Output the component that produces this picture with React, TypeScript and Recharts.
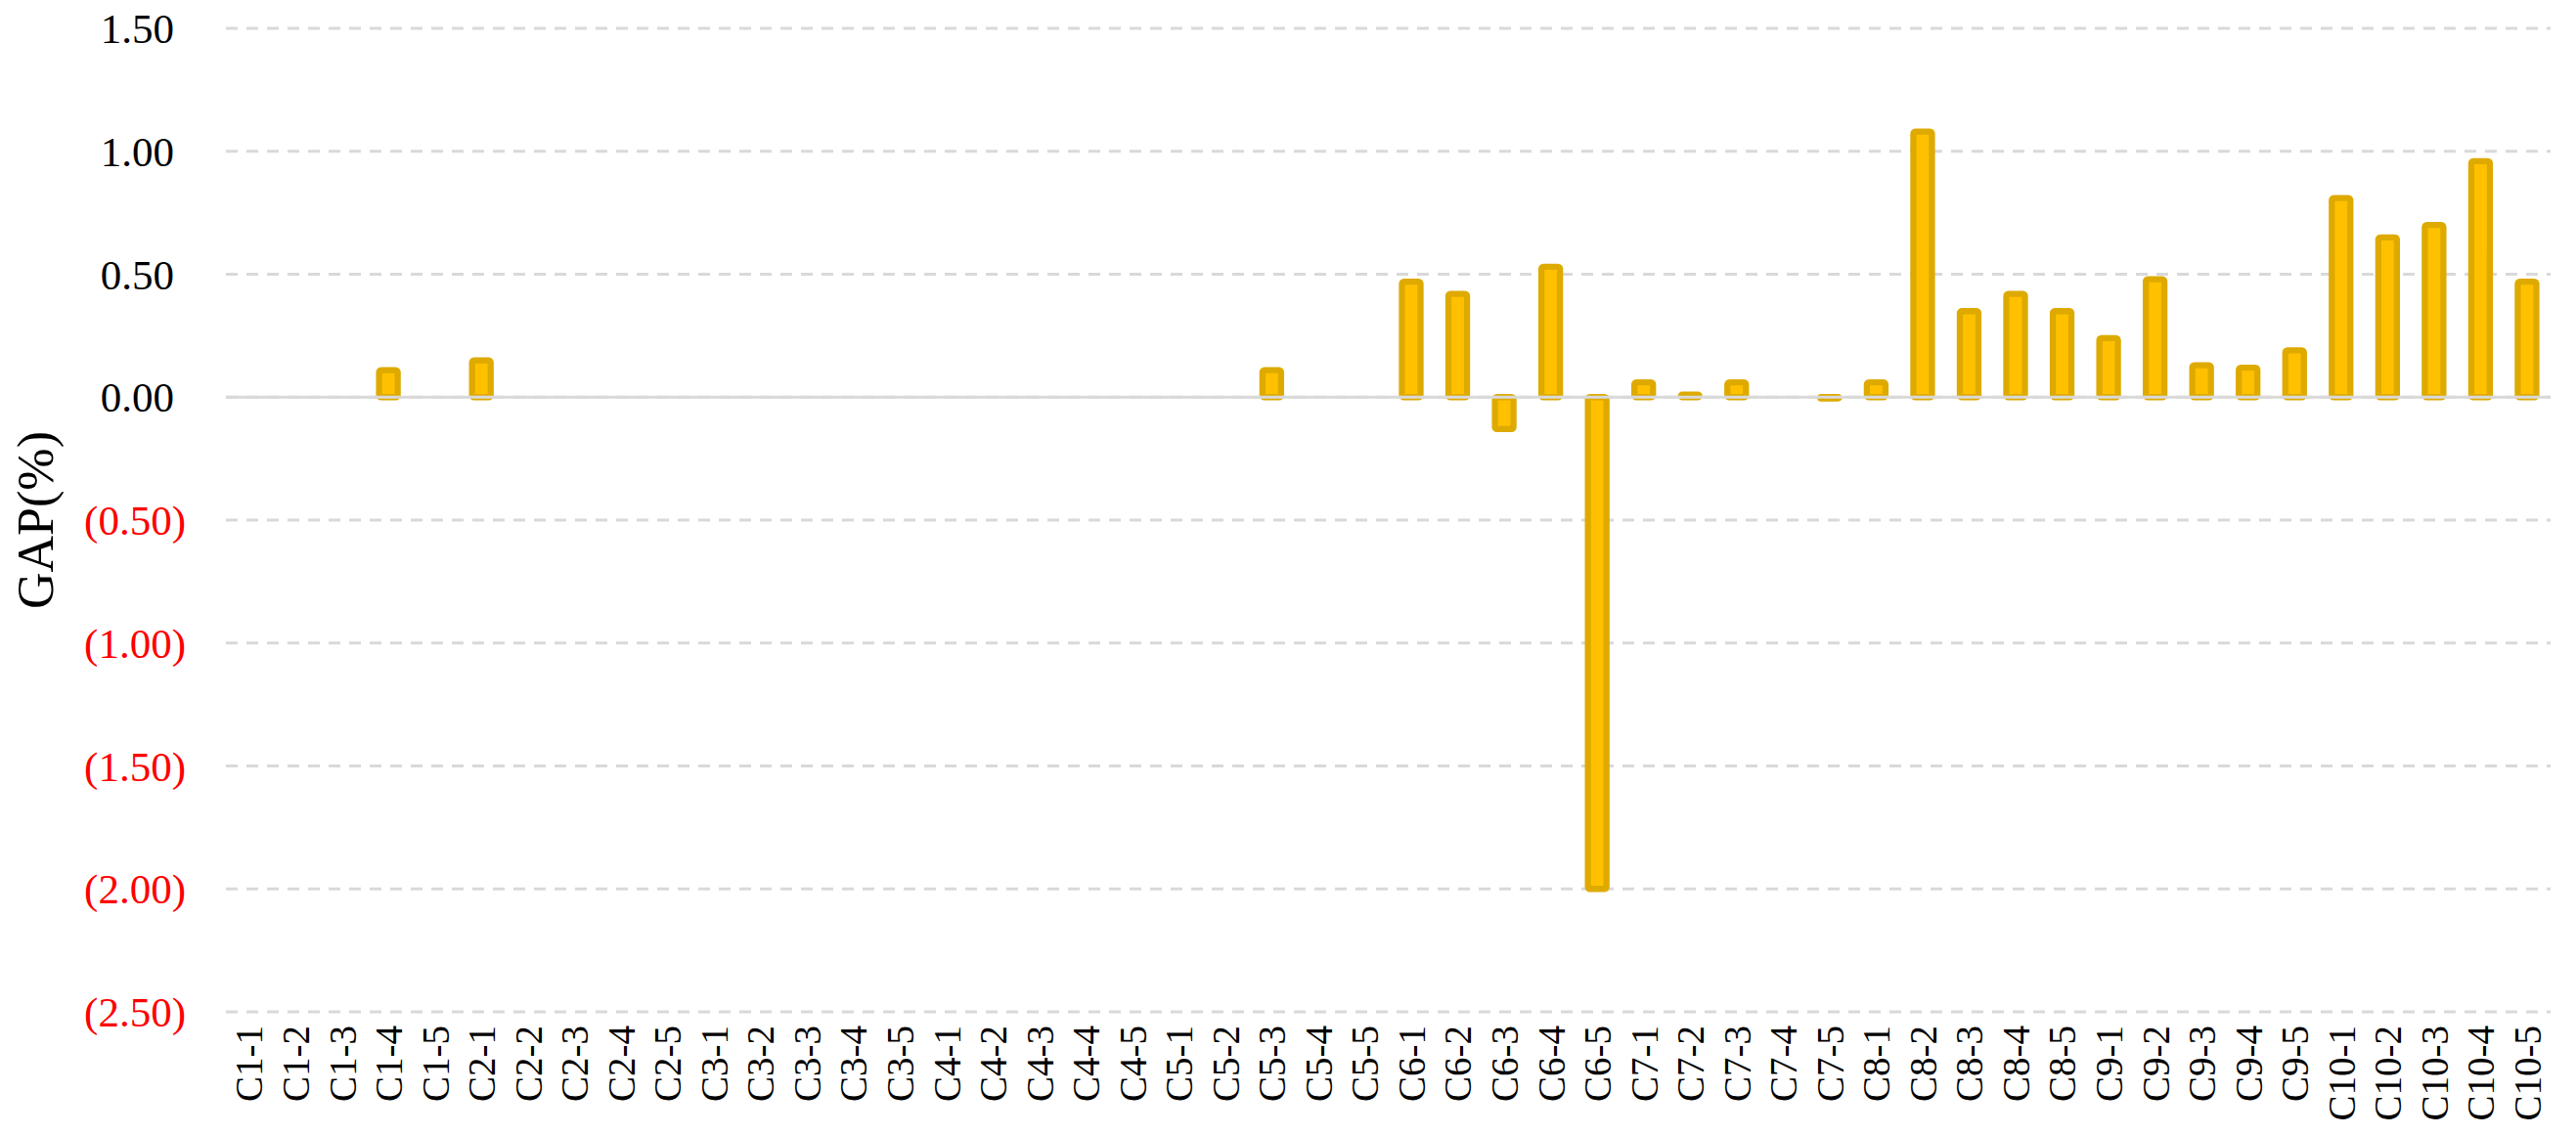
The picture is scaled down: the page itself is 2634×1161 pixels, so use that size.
import React from "react";
import {
  BarChart,
  Bar,
  XAxis,
  YAxis,
  CartesianGrid,
  ReferenceLine,
} from "recharts";

const categories = [
  "C1-1", "C1-2", "C1-3", "C1-4", "C1-5",
  "C2-1", "C2-2", "C2-3", "C2-4", "C2-5",
  "C3-1", "C3-2", "C3-3", "C3-4", "C3-5",
  "C4-1", "C4-2", "C4-3", "C4-4", "C4-5",
  "C5-1", "C5-2", "C5-3", "C5-4", "C5-5",
  "C6-1", "C6-2", "C6-3", "C6-4", "C6-5",
  "C7-1", "C7-2", "C7-3", "C7-4", "C7-5",
  "C8-1", "C8-2", "C8-3", "C8-4", "C8-5",
  "C9-1", "C9-2", "C9-3", "C9-4", "C9-5",
  "C10-1", "C10-2", "C10-3", "C10-4", "C10-5",
];

const gapValues = [
  0, 0, 0, 0.11, 0,
  0.15, 0, 0, 0, 0,
  0, 0, 0, 0, 0,
  0, 0, 0, 0, 0,
  0, 0, 0.11, 0, 0,
  0.47, 0.42, -0.13, 0.53, -2.0,
  0.06, 0.01, 0.06, 0, -0.005,
  0.06, 1.08, 0.35, 0.42, 0.35,
  0.24, 0.48, 0.13, 0.12, 0.19,
  0.81, 0.65, 0.7, 0.96, 0.47,
];

const yTicks = [-2.5, -2, -1.5, -1, -0.5, 0, 0.5, 1, 1.5];

const data = categories.map((name, i) => ({ name, gap: gapValues[i] }));

const FONT = '"Liberation Serif", "Times New Roman", serif';

// excel style: negatives in red with parentheses
const YTick = (props: any) => {
  const { x, y, payload } = props;
  const v = payload.value;
  const neg = v < 0;
  const text = neg ? `(${Math.abs(v).toFixed(2)})` : v.toFixed(2);
  return (
    <text
      x={x - (neg ? 41 : 53)}
      y={y}
      dy="0.35em"
      textAnchor="end"
      fontFamily={FONT}
      fontSize={43}
      fill={neg ? "#FF0000" : "#000000"}
    >
      {text}
    </text>
  );
};

const XTick = (props: any) => {
  const { x, y, payload } = props;
  return (
    <text
      transform={`translate(${x}, ${y + 14}) rotate(-90)`}
      dy="0.35em"
      textAnchor="end"
      fontFamily={FONT}
      fontSize={39}
      fill="#000000"
    >
      {payload.value}
    </text>
  );
};

const YTitle = (props: any) => {
  const { viewBox } = props;
  const cx = viewBox.x + 36;
  const cy = viewBox.y + viewBox.height / 2;
  return (
    <text
      transform={`translate(${cx}, ${cy}) rotate(-90)`}
      dy="0.35em"
      textAnchor="middle"
      fontFamily={FONT}
      fontSize={52}
      fill="#000000"
    >
      GAP(%)
    </text>
  );
};

export default function App() {
  return (
    <div style={{ position: "absolute", left: 0, top: 0, background: "#fff" }}>
      <BarChart
        width={2634}
        height={1161}
        data={data}
        margin={{ top: 29, right: 26, left: 0, bottom: 0 }}
      >
        <CartesianGrid
          horizontal={true}
          vertical={false}
          stroke="#D9D9D9"
          strokeWidth={3}
          strokeDasharray="12 9"
        />
        <XAxis
          dataKey="name"
          interval={0}
          height={126}
          axisLine={false}
          tickLine={false}
          tickSize={0}
          tickMargin={0}
          tick={<XTick />}
        />
        <YAxis
          width={231}
          domain={[-2.5, 1.5]}
          ticks={yTicks}
          allowDataOverflow
          axisLine={false}
          tickLine={false}
          tickSize={0}
          tickMargin={0}
          tick={<YTick />}
          label={<YTitle />}
        />
        <Bar
          dataKey="gap"
          barSize={19}
          fill="#FFC000"
          stroke="#DEAA00"
          strokeWidth={6.3}
          strokeLinejoin="round"
          radius={2}
          isAnimationActive={false}
        />
        <ReferenceLine y={0} stroke="#D9D9D9" strokeWidth={3} />
      </BarChart>
    </div>
  );
}
